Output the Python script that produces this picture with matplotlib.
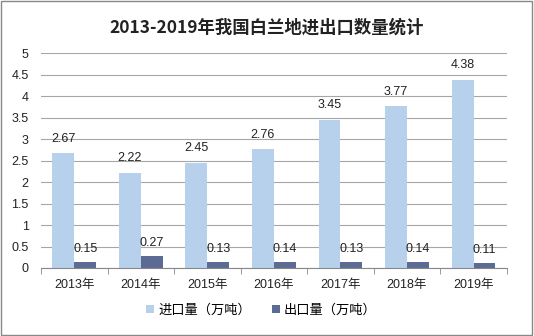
import matplotlib
matplotlib.use("Agg")
import matplotlib.pyplot as plt
import numpy as np
from matplotlib.patches import Rectangle

plt.rcParams['font.family'] = ['Liberation Sans', 'Noto Sans CJK SC', 'DejaVu Sans']

years = ["2013年", "2014年", "2015年", "2016年", "2017年", "2018年", "2019年"]
imports = [2.67, 2.22, 2.45, 2.76, 3.45, 3.77, 4.38]
exports = [0.15, 0.27, 0.13, 0.14, 0.13, 0.14, 0.11]
title = "2013-2019年我国白兰地进出口数量统计"
series_names = ["进口量（万吨）", "出口量（万吨）"]
c_imp = "#B7D0EC"
c_exp = "#5B6B93"

fig = plt.figure(figsize=(5.34, 3.36), dpi=100)
ax = fig.add_axes([0.077, 0.2024, 0.872, 0.6396])

x = np.arange(len(years))
w = 0.33
b1 = ax.bar(x - w/2, imports, w, color=c_imp, zorder=2, label=series_names[0])
b2 = ax.bar(x + w/2, exports, w, color=c_exp, zorder=2, label=series_names[1])

for rect, v in zip(b1, imports):
    ax.annotate(f"{v:.2f}", (rect.get_x() + rect.get_width()/2, v), xytext=(0, 6),
                textcoords="offset points", ha="center", va="bottom", fontsize=9, color="#222222")
for rect, v in zip(b2, exports):
    ax.annotate(f"{v:.2f}", (rect.get_x() + rect.get_width()/2, v), xytext=(0, 5),
                textcoords="offset points", ha="center", va="bottom", fontsize=9, color="#222222")

ax.set_ylim(0, 5)
ax.set_xlim(-0.5, len(years) - 0.5)
ax.set_yticks(np.arange(0, 5.01, 0.5))
ax.set_yticklabels(["0", "0.5", "1", "1.5", "2", "2.5", "3", "3.5", "4", "4.5", "5"])
ax.yaxis.grid(True, color="#A6A6A6", linewidth=0.8, zorder=0)
ax.set_axisbelow(True)
ax.tick_params(axis="y", length=0, labelsize=9, pad=9, colors="#222222")

ax.set_xticks(x)
ax.set_xticklabels(years)
ax.tick_params(axis="x", length=0, labelsize=9, pad=8, colors="#222222")
ax.set_xticks(np.arange(-0.5, len(years), 1.0), minor=True)
ax.tick_params(axis="x", which="minor", length=4, color="#888888", direction="out")

for s in ["top", "right", "left"]:
    ax.spines[s].set_visible(False)
ax.spines["bottom"].set_color("#888888")

fig.text(0.5, 0.918, title, ha="center", va="center", fontsize=12.5, fontweight="bold",
         color="#222222", family=['Noto Sans CJK SC', 'DejaVu Sans'])

leg = fig.legend(handles=[b1, b2], labels=series_names, loc="center", bbox_to_anchor=(0.49, 0.077),
                 ncol=2, frameon=False, handlelength=0.6, handleheight=0.6,
                 handletextpad=0.3, columnspacing=1.6,
                 prop={'family': ['Noto Sans CJK SC', 'DejaVu Sans'], 'size': 9.5})

fig.patches.append(Rectangle((0.002, 0.003), 0.995, 0.994, transform=fig.transFigure,
                             fill=False, edgecolor="#888888", linewidth=1))

fig.savefig("out.png", dpi=100)
